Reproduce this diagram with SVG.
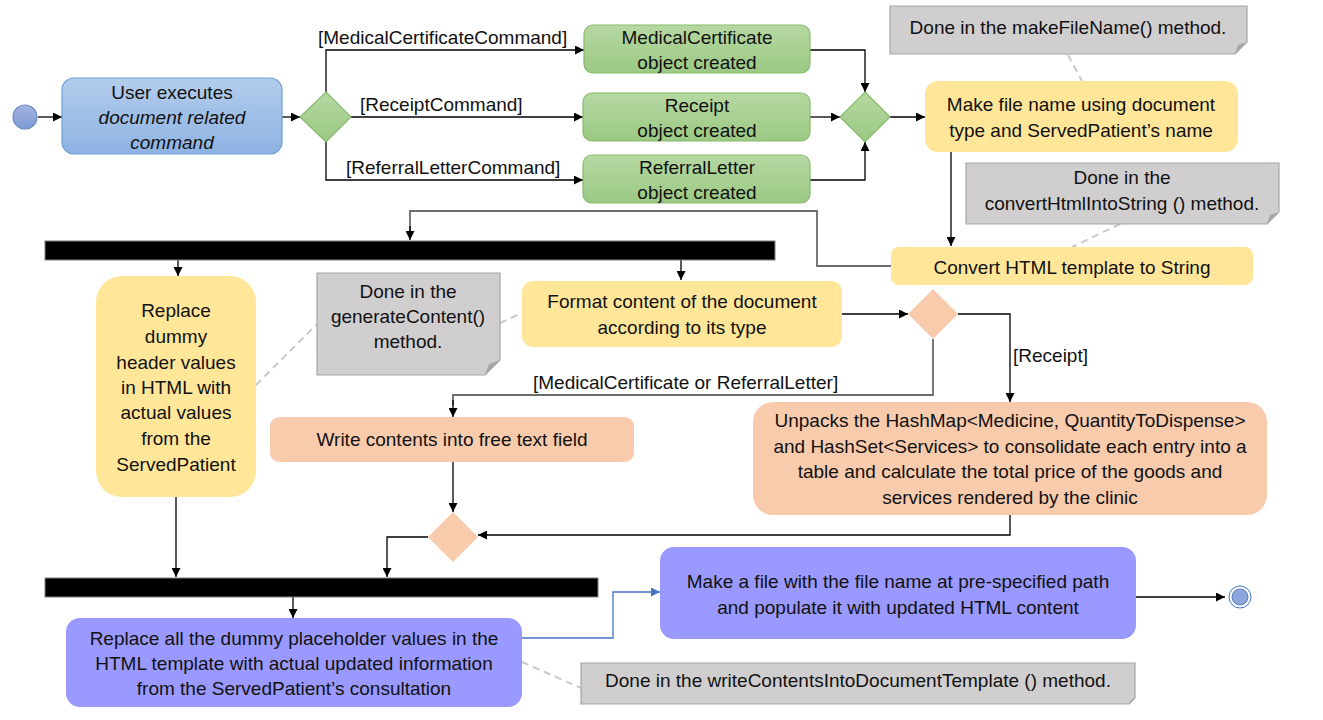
<svg xmlns="http://www.w3.org/2000/svg" width="1323" height="720" viewBox="0 0 1323 720">
<defs>
<linearGradient id="gBlue" x1="0" y1="0" x2="0" y2="1"><stop offset="0" stop-color="#B3CDEC"/><stop offset="1" stop-color="#8EB3E3"/></linearGradient>
<linearGradient id="gGreen" x1="0" y1="0" x2="0" y2="1"><stop offset="0" stop-color="#B6D8A2"/><stop offset="1" stop-color="#9BC984"/></linearGradient>
<linearGradient id="gStart" x1="0" y1="0" x2="0" y2="1"><stop offset="0" stop-color="#A3B3E0"/><stop offset="1" stop-color="#7F9AD6"/></linearGradient>
<marker id="arr" viewBox="0 0 10 10" refX="10" refY="5" markerWidth="9" markerHeight="9" markerUnits="userSpaceOnUse" orient="auto"><path d="M0,0 L10,5 L0,10 Z" fill="#000"/></marker>
<marker id="arrB" viewBox="0 0 10 10" refX="10" refY="5" markerWidth="9" markerHeight="9" markerUnits="userSpaceOnUse" orient="auto"><path d="M0,0 L10,5 L0,10 Z" fill="#4472C4"/></marker>
</defs>
<style>
text{font-family:"Liberation Sans",Arial,sans-serif;font-size:19px;fill:#111;text-anchor:middle;dominant-baseline:central}
.lbl{text-anchor:start}
.it{font-style:italic}
.c{fill:none;stroke:#000;stroke-width:1.3;marker-end:url(#arr)}
.cg{fill:none;stroke:#6b6b6b;stroke-width:1.8}
.cb{fill:none;stroke:#4472C4;stroke-width:1.3;marker-end:url(#arrB)}
.dash{fill:none;stroke:#C8C8C8;stroke-width:2;stroke-dasharray:7 5}
.blue{fill:url(#gBlue);stroke:#6E9FD6;stroke-width:1.2}
.green{fill:url(#gGreen);stroke:#86BA6A;stroke-width:1.2}
.yellow{fill:#FFE699}
.orange{fill:#F8CBAD}
.purple{fill:#9999FF}
.note{fill:#D0CECE;stroke:#A6A6A6;stroke-width:1.2}
.fold{fill:#A6A6A6}
.bar{fill:#000;stroke:#7f7f7f;stroke-width:1}
</style>

<g id="connectors">
<line class="c" x1="38" y1="117" x2="62" y2="117"/>
<line class="c" x1="282" y1="117" x2="300" y2="117"/>
<polyline class="c" points="326,92 326,50 584,50"/>
<line class="c" x1="351" y1="117" x2="583" y2="117"/>
<polyline class="c" points="326,142 326,180 583,180"/>
<polyline class="c" points="810,50 865,50 865,92"/>
<line class="c" x1="810" y1="117" x2="840" y2="117"/>
<polyline class="c" points="810,180 865,180 865,142"/>
<line class="c" x1="890" y1="117" x2="925" y2="117"/>
<line class="c" x1="951" y1="152" x2="951" y2="246"/>
<polyline class="cg" points="891,266 817,266 817,211 410,211 410,232"/>
<line class="c" x1="410" y1="226" x2="410" y2="240"/>
<line class="c" x1="178" y1="260" x2="178" y2="276"/>
<line class="c" x1="681" y1="260" x2="681" y2="280"/>
<line class="c" x1="842" y1="314" x2="908" y2="314"/>
<polyline class="c" points="958,314 1010,314 1010,402"/>
<polyline class="cg" points="933,339 933,395 453,395 453,405"/>
<line class="c" x1="453" y1="400" x2="453" y2="417"/>
<line class="c" x1="453" y1="462" x2="453" y2="512"/>
<polyline class="c" points="1010,515 1010,535 478,535"/>
<polyline class="c" points="428,537 387,537 387,577"/>
<line class="c" x1="176" y1="497" x2="176" y2="577"/>
<line class="c" x1="293" y1="597" x2="293" y2="618"/>
<polyline class="cb" points="522,638 613,638 613,592 660,592"/>
<polyline class="c" points="1136,597 1225,597"/>
<line class="dash" x1="1068" y1="55" x2="1082" y2="81"/>
<line class="dash" x1="1120" y1="224" x2="1072" y2="247"/>
<line class="dash" x1="256" y1="385" x2="317" y2="324"/>
<line class="dash" x1="500" y1="323" x2="522" y2="313"/>
<line class="dash" x1="522" y1="662" x2="581" y2="688"/>
<text class="lbl" x="318" y="37">[MedicalCertificateCommand]</text>
<text class="lbl" x="360" y="104">[ReceiptCommand]</text>
<text class="lbl" x="346" y="167">[ReferralLetterCommand]</text>
<text class="lbl" x="1013" y="355">[Receipt]</text>
<text class="lbl" x="533" y="382">[MedicalCertificate or ReferralLetter]</text>
</g>

<g id="start"><circle cx="25" cy="117" r="12" fill="url(#gStart)" stroke="#6C8EBF" stroke-width="1.2"/></g>

<g id="userExecutes">
<rect class="blue" x="62" y="78" width="220" height="76" rx="12"/>
<text x="172" y="92">User executes</text>
<text class="it" x="172" y="117">document related</text>
<text class="it" x="172" y="142">command</text>
</g>

<g id="decision1"><polygon class="green" points="326,92 351,117 326,142 300,117"/></g>

<g id="mcCreated">
<rect class="green" x="584" y="25" width="226" height="48" rx="9"/>
<text x="697" y="37">MedicalCertificate</text>
<text x="697" y="62">object created</text>
</g>
<g id="receiptCreated">
<rect class="green" x="583" y="93" width="227" height="48" rx="9"/>
<text x="697" y="105">Receipt</text>
<text x="697" y="130">object created</text>
</g>
<g id="referralCreated">
<rect class="green" x="583" y="155" width="227" height="48" rx="9"/>
<text x="697" y="167">ReferralLetter</text>
<text x="697" y="192">object created</text>
</g>

<g id="merge1"><polygon class="green" points="865,92 890,117 865,142 840,117"/></g>

<g id="makeFileName">
<rect class="yellow" x="925" y="81" width="313" height="71" rx="13"/>
<text x="1081" y="104">Make file name using document</text>
<text x="1081" y="130">type and ServedPatient’s name</text>
</g>

<g id="note1">
<path class="note" d="M890,6 H1247 V42 L1235,54 H890 Z"/>
<path class="fold" d="M1235,54 L1238,45 L1247,42 Z"/>
<text x="1068" y="27">Done in the makeFileName() method.</text>
</g>

<g id="note2">
<path class="note" d="M966,163 H1279 V212 L1267,224 H966 Z"/>
<path class="fold" d="M1267,224 L1270,215 L1279,212 Z"/>
<text x="1122" y="177">Done in the</text>
<text x="1122" y="203">convertHtmlIntoString () method.</text>
</g>

<g id="convertHtml">
<rect class="yellow" x="891" y="247" width="362" height="38" rx="8"/>
<text x="1072" y="267">Convert HTML template to String</text>
</g>

<g id="fork1"><rect class="bar" x="45" y="241" width="730" height="19"/></g>

<g id="replaceHeader">
<rect class="yellow" x="96" y="276" width="160" height="221" rx="26"/>
<text x="176" y="310">Replace</text>
<text x="176" y="336">dummy</text>
<text x="176" y="362">header values</text>
<text x="176" y="387">in HTML with</text>
<text x="176" y="412">actual values</text>
<text x="176" y="438">from the</text>
<text x="176" y="464">ServedPatient</text>
</g>

<g id="note3">
<path class="note" d="M317,273 H500 V360 L485,375 H317 Z"/>
<path class="fold" d="M485,375 L489,364 L500,360 Z"/>
<text x="408" y="291">Done in the</text>
<text x="408" y="316">generateContent()</text>
<text x="408" y="341">method.</text>
</g>

<g id="formatContent">
<rect class="yellow" x="522" y="281" width="320" height="66" rx="11"/>
<text x="682" y="301">Format content of the document</text>
<text x="682" y="327">according to its type</text>
</g>

<g id="decision2"><polygon class="orange" points="933,289 958,314 933,339 908,314"/></g>

<g id="writeContents">
<rect class="orange" x="270" y="417" width="364" height="45" rx="9"/>
<text x="452" y="439">Write contents into free text field</text>
</g>

<g id="unpacks">
<rect class="orange" x="753" y="402" width="514" height="113" rx="20"/>
<text x="1010" y="420">Unpacks the HashMap&lt;Medicine, QuantityToDispense&gt;</text>
<text x="1010" y="446">and HashSet&lt;Services&gt; to consolidate each entry into a</text>
<text x="1010" y="471">table and calculate the total price of the goods and</text>
<text x="1010" y="497">services rendered by the clinic</text>
</g>

<g id="merge2"><polygon class="orange" points="453,512 478,537 453,562 428,537"/></g>

<g id="join2"><rect class="bar" x="45" y="578" width="553" height="19"/></g>

<g id="replaceAll">
<rect class="purple" x="66" y="618" width="456" height="89" rx="14"/>
<text x="294" y="638">Replace all the dummy placeholder values in the</text>
<text x="294" y="663">HTML template with actual updated information</text>
<text x="294" y="688">from the ServedPatient’s consultation</text>
</g>

<g id="makeFile">
<rect class="purple" x="660" y="547" width="476" height="92" rx="14"/>
<text x="898" y="581">Make a file with the file name at pre-specified path</text>
<text x="898" y="607">and populate it with updated HTML content</text>
</g>

<g id="note4">
<path class="note" d="M581,663 H1135 V698 L1129,704 H581 Z"/>
<path class="fold" d="M1129,704 L1131,700 L1135,698 Z"/>
<text x="858" y="680">Done in the writeContentsIntoDocumentTemplate () method.</text>
</g>

<g id="end">
<circle cx="1240" cy="597" r="11" fill="#fff" stroke="#4472C4" stroke-width="1"/>
<circle cx="1240" cy="597" r="8" fill="#8DA7DC" stroke="#5B7FC0" stroke-width="1"/>
</g>
</svg>
